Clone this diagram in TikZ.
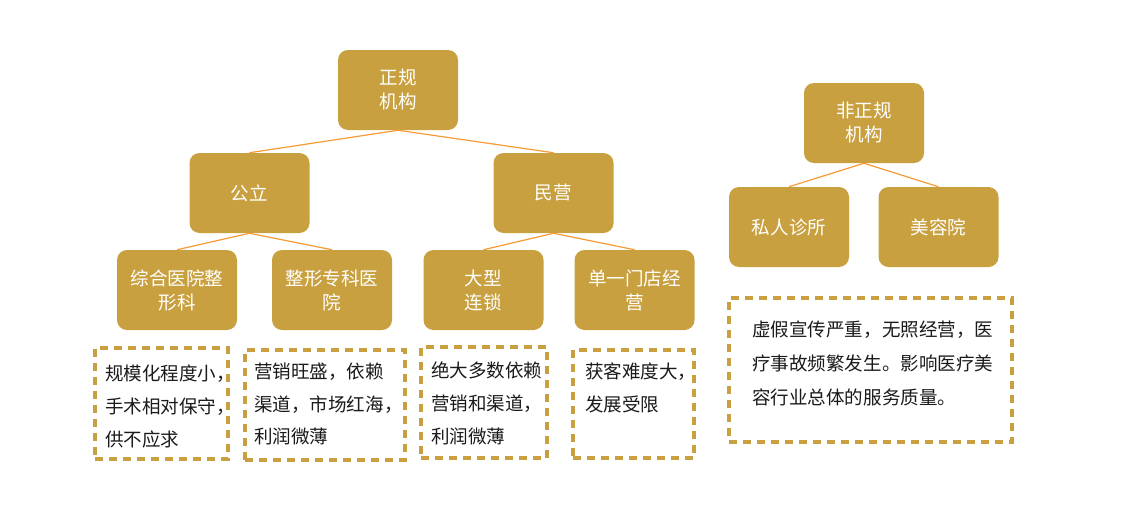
\documentclass[tikz,border=0pt]{standalone}
\usepackage{fontspec}
\setmainfont{Noto Sans CJK SC}
\definecolor{gold}{HTML}{C8A03F}
\definecolor{linkor}{HTML}{F59A35}
\definecolor{txt}{HTML}{1A1A1A}
\tikzset{
  gbox/.style={fill=gold, draw=none, rounded corners=7.5pt, minimum width=90pt, minimum height=60pt,
    text=white, align=center, inner sep=0pt, font={\fontsize{13.9}{18}\selectfont}},
  link/.style={draw=linkor, line width=0.9pt},
  dbox/.style={draw=gold, line width=2.4pt, dash pattern=on 6pt off 4.5pt, rectangle, inner sep=0pt},
  dtext/.style={anchor=west, align=left, inner sep=0pt, text=txt, font={\fontsize{13.9}{24.6}\selectfont}}
}
\begin{document}
\begin{tikzpicture}[x=0.75pt, y=-0.75pt]
\useasboundingbox (0,0) rectangle (1134,514);
% main boxes
\node[gbox] (zg) at (398,90) {正规\\机构};
\node[gbox] (gl) at (249.5,193) {公立};
\node[gbox] (my) at (553.5,193) {民营};
\node[gbox] (zh) at (177,290) {综合医院整\\形科};
\node[gbox] (zx) at (332,290) {整形专科医\\院};
\node[gbox] (dx) at (483.5,290) {大型\\连锁};
\node[gbox] (dy) at (634.5,290) {单一门店经\\营};
\node[gbox] (fz) at (864,123) {非正规\\机构};
\node[gbox] (sr) at (789,227) {私人诊所};
\node[gbox] (mr) at (938.5,227) {美容院};
% connectors
\draw[link] (zg.south) -- (gl.north);
\draw[link] (zg.south) -- (my.north);
\draw[link] (gl.south) -- (zh.north);
\draw[link] (gl.south) -- (zx.north);
\draw[link] (my.south) -- (dx.north);
\draw[link] (my.south) -- (dy.north);
\draw[link] (fz.south) -- (sr.north);
\draw[link] (fz.south) -- (mr.north);
% dashed boxes
\node[dbox, minimum width=99.75pt, minimum height=83.25pt] (d1) at (161.5,403.5) {};
\node[dbox, minimum width=120pt, minimum height=82.5pt] (d2) at (325,405) {};
\node[dbox, minimum width=94.5pt, minimum height=83.25pt] (d3) at (484,402.5) {};
\node[dbox, minimum width=90.75pt, minimum height=81pt] (d4) at (633.5,404) {};
\node[dbox, minimum width=212.25pt, minimum height=108pt] (d5) at (870.5,370) {};
% texts
\node[dtext] (t1) at (105,406.5) {规模化程度小，\\手术相对保守，\\供不应求};
\node[dtext] (t2) at (254,404) {营销旺盛，依赖\\渠道，市场红海，\\利润微薄};
\node[dtext] (t3) at (431,403.5) {绝大多数依赖\\营销和渠道，\\利润微薄};
\node[dtext] (t4) at (585,387.5) {获客难度大，\\发展受限};
\node[dtext, font={\fontsize{13.9}{25.5}\selectfont}] (t5) at (752,363.5) {虚假宣传严重，无照经营，医\\疗事故频繁发生。影响医疗美\\容行业总体的服务质量。};
\end{tikzpicture}
\end{document}
